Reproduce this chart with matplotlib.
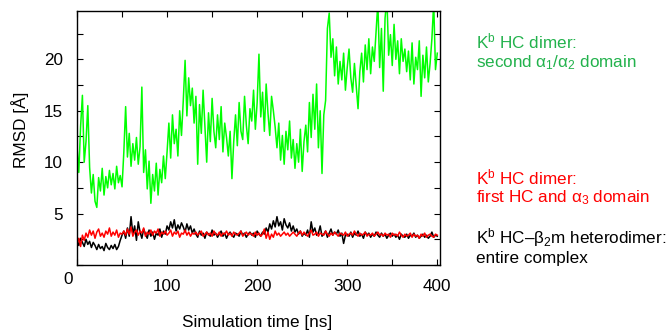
import numpy as np
import matplotlib
matplotlib.use("Agg")
import matplotlib.pyplot as plt

plt.rcParams['font.family'] = ['Liberation Sans', 'DejaVu Sans']
plt.rcParams['mathtext.fontset'] = 'custom'
plt.rcParams['mathtext.rm'] = 'Liberation Sans'
plt.rcParams['mathtext.it'] = 'Liberation Sans'

FS = 12.3

# RMSD traces, one sample every 2 ns from 0 to 400 ns
time_ns = np.arange(0, 401, 2)

# second alpha1/alpha2 domain of the HC dimer
rmsd_dimer_a1a2 = [
    11.5, 9.0, 13.5, 16.5, 10.0, 12.0, 15.5, 9.5,
    7.0, 8.8, 6.2, 5.6, 8.5,
    7.2, 9.4, 6.8, 8.6, 7.5, 9.2, 7.8, 8.9, 7.4, 9.6, 8.0, 8.7, 7.6,
    11.0, 15.4,
    10.5, 12.8, 9.6, 11.8, 10.2, 12.4, 9.8, 11.5,
    17.3,
    9.0, 11.2, 7.4, 10.1, 6.0, 8.8, 7.2, 9.9, 6.8, 9.3, 8.0, 10.6, 8.4,
    11.0, 13.8, 10.4, 14.6, 11.8, 13.2, 10.6, 15.0, 12.6,
    16.0, 19.9, 14.5, 18.2, 15.5,
    17.2, 13.8, 16.4, 9.8, 15.6, 12.8, 17.0, 13.6, 10.0,
    14.8, 12.0, 16.2, 13.0, 11.4, 14.6, 12.2, 15.4, 11.0, 13.8, 12.4, 10.6, 13.0, 8.4,
    12.0, 14.6, 11.6, 15.8, 13.0, 12.2, 16.4, 13.6, 11.8, 15.2, 14.0, 17.0,
    13.2, 15.8, 20.5, 14.4, 16.8, 13.0, 17.6, 14.8, 12.6, 16.4, 15.0, 13.4,
    11.4, 13.8, 10.2, 12.6, 9.8, 13.0, 11.2, 14.0, 10.4, 12.2, 9.4, 11.8, 10.0, 13.2, 9.1, 12.0,
    13.6, 11.0, 15.8, 12.4, 16.6, 13.2, 17.6, 11.4, 15.0, 8.9, 14.6, 16.0,
    23.0,
    24.5, 20.2, 22.0, 18.4, 21.2, 17.6, 19.8, 18.0, 20.6, 17.0, 19.2, 21.0, 18.2, 16.8, 19.6, 17.4, 15.2,
    18.8, 20.6, 17.8, 21.4, 19.0, 22.0, 18.6, 21.2, 19.8, 22.6,
    25.5, 19.2, 23.0, 16.9, 24.0, 26.0, 20.4,
    22.4, 19.4, 23.4, 20.0, 21.8, 18.6, 22.0, 19.8, 21.0, 18.8,
    20.8, 18.0, 21.6, 17.6, 20.2, 19.0, 21.8, 16.4, 20.4, 18.2, 21.2, 17.8, 19.6, 22.0, 25.5, 19.0, 20.6,
]

# whole HC-b2m heterodimer
rmsd_complex = [
    2.4, 1.9, 2.6, 2.2, 1.8, 2.5, 2.0, 2.3, 1.7, 2.2,
    1.9, 1.5, 2.0, 1.6, 1.8, 1.4, 2.1, 1.7, 1.5, 1.9, 1.6, 2.0, 1.5, 1.8,
    2.4, 2.9, 3.3, 2.6,
    3.6, 2.8, 4.7, 3.0, 3.8, 2.4, 4.2, 3.2, 2.6, 3.5,
    3.0, 2.6, 3.4, 2.8, 3.2, 2.5, 3.1, 2.9, 3.5, 2.7, 3.3, 3.0,
    3.8, 3.4, 4.2, 3.6, 4.4, 3.3, 3.9, 3.5, 4.1, 3.7, 3.2, 4.0, 3.4, 3.8, 3.1, 3.5,
    3.0, 2.7, 3.3, 2.9, 3.1, 2.6, 3.2, 3.0, 2.8, 3.4,
    2.9, 3.1, 2.7, 3.0, 3.3, 2.8, 3.1, 2.6, 3.0, 3.2,
    2.9, 2.7, 3.1, 3.0, 2.8, 3.3, 2.9, 3.1, 2.7, 3.0,
    3.2, 2.9, 3.1, 2.7, 3.3, 3.0, 2.8, 3.2, 3.0,
    3.6, 3.2, 4.0, 3.5, 4.3, 3.7, 4.7, 3.8, 4.2, 3.4, 4.5, 3.9, 3.6, 4.1, 3.3, 3.8, 3.2, 3.5,
    3.0, 3.3, 2.8, 3.1, 2.9, 3.4, 2.7, 4.2, 3.2, 3.6,
    2.9, 3.1, 3.8, 2.8, 3.0, 3.3, 2.7, 3.1, 3.5, 2.9,
    3.2, 3.0, 3.4, 2.8, 3.1, 2.1, 2.9,
    3.0, 2.8, 3.2, 2.7, 3.1, 2.9, 3.3, 2.8, 3.0, 2.6,
    3.2, 2.9, 3.1, 2.7, 3.0, 2.8, 3.2, 2.9, 2.7, 3.1,
    2.8, 3.0, 2.6, 2.9, 3.1, 2.8, 3.0, 2.7, 2.9, 2.5,
    3.0, 2.8, 2.7, 3.0, 2.6, 2.9, 2.8, 3.1, 2.7, 2.9,
    2.6, 2.8, 3.0, 2.7, 2.9, 2.6, 2.8, 3.2, 2.7, 2.9,
    2.8,
]

# first HC and alpha3 domain of the HC dimer
rmsd_dimer_hc_a3 = [
    2.0, 2.6, 1.8, 2.9, 2.4,
    3.1, 2.7, 3.4, 2.9, 3.3, 2.6, 3.2, 3.5, 2.8, 3.1,
    2.7, 3.3, 3.0, 3.6, 2.8, 3.2, 2.9, 3.4, 2.7, 3.1, 3.0,
    3.3, 2.9, 3.5, 3.0, 3.7, 2.8, 3.2, 3.4, 2.9, 3.3,
    3.1, 3.6, 2.8, 3.2, 3.0, 3.4, 2.9, 3.3, 3.1, 3.5,
    2.8, 3.2, 3.0, 3.3, 2.9, 3.1, 3.4, 2.8, 3.2, 3.0,
    3.3, 2.7, 3.1, 3.0, 3.4, 2.9, 3.2, 2.8, 3.1, 3.0,
    3.2, 2.9, 3.1, 3.3, 2.8, 3.0, 3.2, 2.9, 3.1, 2.8,
    3.3, 3.0, 2.9, 3.2, 2.8, 3.1, 3.0, 3.3, 2.9, 3.1,
    2.8, 3.2, 3.0, 2.9, 3.1, 3.3, 2.8, 3.0, 3.2, 2.9,
    3.1, 3.0, 2.8, 3.2, 2.9,
    3.1, 2.8, 3.0, 3.5, 2.6, 3.2, 2.5, 3.0, 2.7, 3.3,
    2.9, 3.1, 2.8, 3.0, 3.2, 2.9, 3.1, 2.8, 3.0, 3.2,
    3.0, 2.8, 3.1, 3.3, 2.9, 3.2, 3.0, 2.8, 3.1, 3.4,
    2.9, 3.0, 3.2, 2.8, 3.1, 3.0, 2.9, 3.3, 3.0, 2.8,
    3.1, 2.9, 3.2, 3.0, 2.8, 3.1, 3.0, 2.9, 3.2, 2.8,
    3.0, 3.1, 2.9, 3.3, 3.0, 2.8, 3.1, 2.9, 3.0, 3.2,
    2.8, 3.0, 2.9, 3.1, 2.8, 3.0, 3.2, 2.9, 3.0, 2.8,
    3.1, 2.9, 3.0, 2.7, 3.1, 2.9, 3.0, 2.8, 3.2, 2.9,
    2.7, 3.0, 2.8, 2.9, 3.1, 2.7, 3.0, 2.8, 2.9, 2.6,
    3.0, 2.8, 3.1, 2.7, 2.9, 3.0, 2.8, 2.7, 3.0, 2.9,
]

for s in (rmsd_dimer_a1a2, rmsd_complex, rmsd_dimer_hc_a3):
    assert len(s) == len(time_ns), len(s)

fig = plt.figure(figsize=(6.67, 3.31), dpi=100)
ax = fig.add_axes([77 / 667, 1 - 265 / 331, 363 / 667, 254 / 331])

ax.plot(time_ns, rmsd_dimer_a1a2, color='#00ff00', lw=1.1)
ax.plot(time_ns, rmsd_complex, color='black', lw=1.1)
ax.plot(time_ns, rmsd_dimer_hc_a3, color='#ff0000', lw=1.1)

ax.set_xlim(0, 403)
ax.set_ylim(0, 24.7)

xt = np.arange(0, 401, 50)
ax.set_xticks(xt)
ax.set_xticklabels(['' if (v == 0 or v % 100) else str(v) for v in xt])
yt = np.arange(0, 24.7, 2.5)
ax.set_yticks(yt)
ax.set_yticklabels(['' if (v == 0 or v % 5) else str(int(v)) for v in yt])
ax.tick_params(direction='in', top=True, right=True, length=4, width=0.8,
               labelsize=FS, pad=10)
for sp in ax.spines.values():
    sp.set_linewidth(1.0)

ax.text(-10, -1.4, '0', fontsize=FS, ha='center', va='center', clip_on=False)

fig.text(20 / 667, 1 - 130 / 331, 'RMSD [Å]', rotation=90, fontsize=FS,
         ha='center', va='center')
fig.text(257 / 667, 1 - 322 / 331, 'Simulation time [ns]', fontsize=FS,
         ha='center', va='center')

labels = [
    (41, r'K$^\mathrm{b}$ HC dimer:', '#22b24c'),
    (63, r'second $\alpha_1$/$\alpha_2$ domain', '#22b24c'),
    (177, r'K$^\mathrm{b}$ HC dimer:', '#ff0000'),
    (198, r'first HC and $\alpha_3$ domain', '#ff0000'),
    (238, r'K$^\mathrm{b}$ HC–$\beta_2$m heterodimer:', 'black'),
    (258, 'entire complex', 'black'),
]
for ypx, txt, col in labels:
    fig.text(476 / 667, 1 - ypx / 331, txt, fontsize=FS, color=col,
             ha='left', va='center')

fig.savefig('out.png', dpi=100)
